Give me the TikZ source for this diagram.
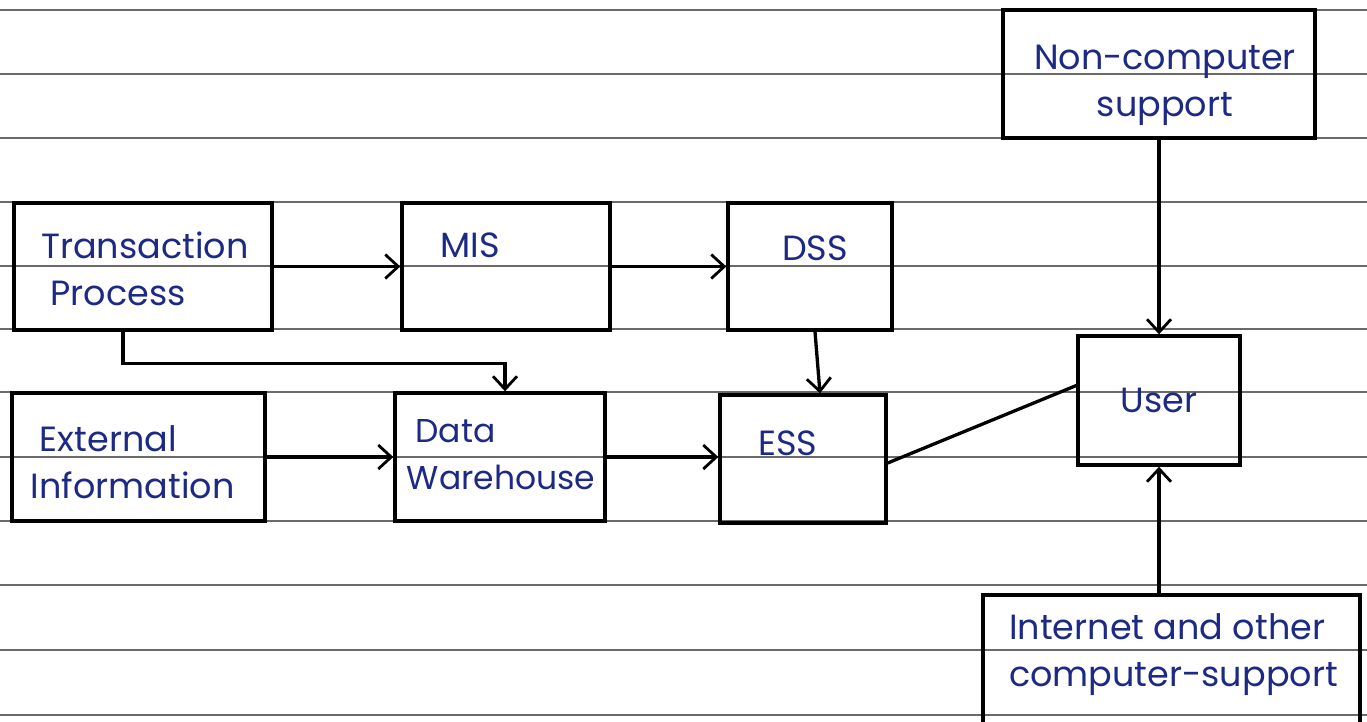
\documentclass[tikz,border=0pt]{standalone}
\usepackage{fontspec}
\setmainfont{Poppins}
\usetikzlibrary{arrows.meta}
\definecolor{ink}{HTML}{1C2A86}
\definecolor{ruling}{HTML}{6A6A6A}
\begin{document}
\begin{tikzpicture}[x=1pt,y=-1pt,
  box/.style={draw=black, line width=3.4pt, inner sep=0pt},
  lbl/.style={text=ink, font=\fontsize{35}{47}\selectfont, inner sep=0pt},
  conn/.style={draw=black, line width=3.3pt},
  arr/.style={conn, -{Straight Barb[length=13pt,width=24pt,line width=2.8pt]}},
  ruleline/.style={draw=ruling, line width=1.8pt}]
\useasboundingbox (0,0) rectangle (1367,721);
\clip (0,0) rectangle (1367,721);
\fill[white] (0,0) rectangle (1367,721);
% ruled paper
\foreach \yy in {10,74,138,202,266,329,392,457,521,585,650,715}
  \draw[ruleline] (0,\yy) -- (1367,\yy);
% boxes
\node[box, minimum width=258pt, minimum height=127pt,
  label={[lbl, align=left, xshift=2pt, yshift=-2pt]center:{Transaction\\\ Process}}] (tp) at (143,266.5) {};
\node[box, minimum width=208pt, minimum height=127pt,
  label={[lbl, xshift=-36pt, yshift=21pt]center:MIS}] (mis) at (506,266.5) {};
\node[box, minimum width=164pt, minimum height=127pt,
  label={[lbl, xshift=5pt, yshift=18pt]center:DSS}] (dss) at (810,266.5) {};
\node[box, minimum width=253pt, minimum height=128pt,
  label={[lbl, align=left, xshift=-6pt, yshift=-5pt]center:{\ External\\Information}}] (ei) at (138.5,457) {};
\node[box, minimum width=210pt, minimum height=128pt,
  label={[lbl, font=\fontsize{33}{47}\selectfont, align=left, xshift=1pt, yshift=2pt]center:{\ Data\\Warehouse}}] (dw) at (500,457) {};
\node[box, minimum width=166pt, minimum height=128pt,
  label={[lbl, xshift=-15pt, yshift=16pt]center:ESS}] (ess) at (803,459) {};
\node[box, minimum width=162pt, minimum height=129pt,
  label={[lbl]center:User}] (user) at (1159,400.5) {};
\node[box, minimum width=312pt, minimum height=128pt,
  label={[lbl, align=center, xshift=6pt, yshift=-11pt]center:{Non-computer\\support}}] (ncs) at (1159,74) {};
\node[box, minimum width=377pt, minimum height=145pt,
  label={[lbl, align=left, xshift=2pt, yshift=13pt]center:{Internet and other\\computer-support}}] (inet) at (1171.5,667.5) {};
% connectors
\draw[arr] (tp.east) -- (mis.west);
\draw[arr] (mis.east) -- (dss.west);
\draw[arr] ([xshift=-20pt]tp.south) -- ++(0,32) -| ([xshift=5pt]dw.north);
\draw[arr] (ei.east) -- (ei.east -| dw.west);
\draw[arr] (dw.east) -- (dw.east -| ess.west);
\draw[arr] ([xshift=5pt]dss.south) -- ([xshift=17pt]ess.north);
\draw[conn] ([yshift=-4pt]ess.east) -- ([yshift=15pt]user.west);
\draw[arr] (ncs.south) -- (ncs.south |- user.north);
\draw[arr] (inet.north -| user.south) -- (user.south);
\end{tikzpicture}
\end{document}
